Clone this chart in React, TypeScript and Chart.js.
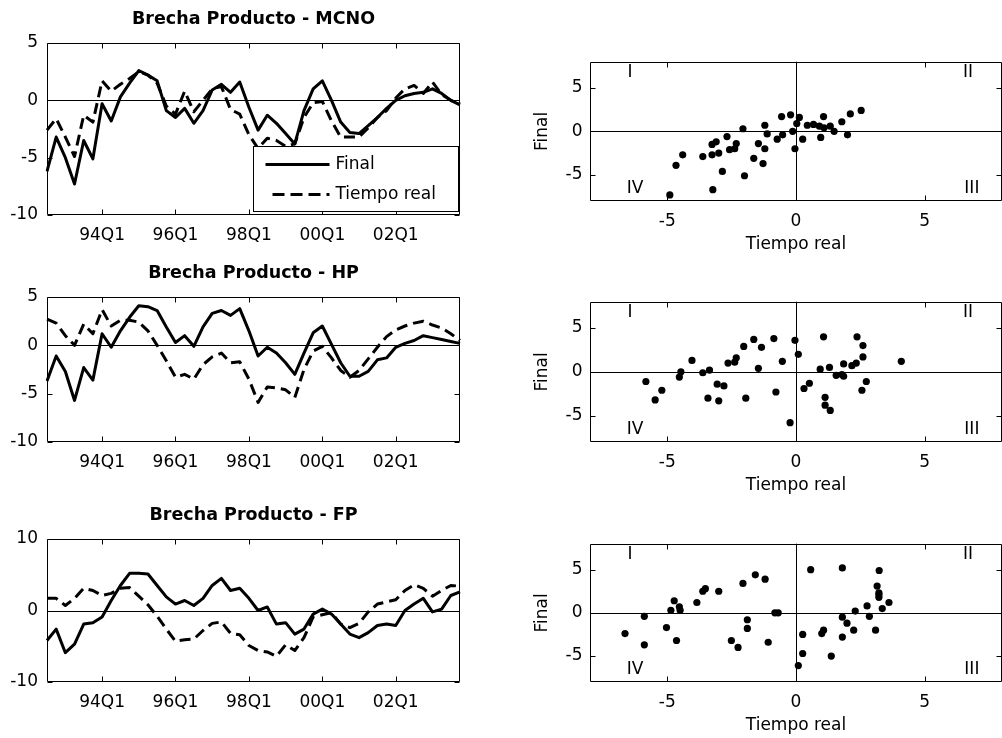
import React, { useEffect, useRef } from "react";
import { Chart, registerables } from "chart.js";

Chart.register(...registerables);

const FONT = "'DejaVu Sans', sans-serif";

// ---------- data ----------
const quarters = [
  "92Q3", "92Q4",
  "93Q1", "93Q2", "93Q3", "93Q4",
  "94Q1", "94Q2", "94Q3", "94Q4",
  "95Q1", "95Q2", "95Q3", "95Q4",
  "96Q1", "96Q2", "96Q3", "96Q4",
  "97Q1", "97Q2", "97Q3", "97Q4",
  "98Q1", "98Q2", "98Q3", "98Q4",
  "99Q1", "99Q2", "99Q3", "99Q4",
  "00Q1", "00Q2", "00Q3", "00Q4",
  "01Q1", "01Q2", "01Q3", "01Q4",
  "02Q1", "02Q2", "02Q3", "02Q4",
  "03Q1", "03Q2", "03Q3", "03Q4",
];
const xTickLabels = ["94Q1", "96Q1", "98Q1", "00Q1", "02Q1"];

const mcnoFinal = [-6.2, -3.2, -5.0, -7.3, -3.5, -5.1, -0.3, -1.8, 0.3, 1.5, 2.6, 2.2, 1.7, -0.9, -1.5, -0.7, -2.0, -0.9, 0.9, 1.4, 0.7, 1.6, -0.6, -2.6, -1.3, -2.0, -2.9, -3.8, -0.9, 1.0, 1.7, 0.0, -1.9, -2.8, -2.9, -2.2, -1.5, -0.7, 0.0, 0.4, 0.6, 0.7, 1.0, 0.6, 0.0, -0.4];
const mcnoReal = [-2.6, -1.6, -3.2, -4.9, -1.3, -1.9, 1.7, 0.8, 1.4, 1.9, 2.5, 2.2, 1.5, -0.5, -1.2, 0.8, -1.0, 0.0, 1.0, 1.2, -0.8, -1.2, -3.0, -4.2, -3.3, -3.5, -4.0, -3.8, -1.5, -0.2, -0.1, -1.8, -3.2, -3.2, -3.2, -2.4, -1.5, -0.9, 0.2, 1.0, 1.3, 0.6, 1.6, 0.5, 0.0, -0.3];

const hpFinal = [-3.7, -1.1, -2.7, -5.7, -2.3, -3.6, 1.2, -0.2, 1.5, 2.9, 4.1, 4.0, 3.6, 1.9, 0.3, 1.0, -0.1, 1.9, 3.3, 3.6, 3.1, 3.8, 1.5, -1.1, -0.2, -0.8, -1.8, -3.0, -0.8, 1.3, 2.0, 0.1, -1.8, -3.2, -3.2, -2.7, -1.5, -1.3, -0.2, 0.2, 0.5, 1.0, 0.8, 0.6, 0.4, 0.2];
const hpReal = [2.7, 2.3, 1.0, 0.0, 2.2, 1.2, 3.7, 2.0, 2.6, 2.6, 2.4, 1.5, 0.0, -1.6, -3.3, -3.0, -3.5, -2.0, -1.2, -0.8, -1.8, -1.7, -3.5, -5.9, -4.3, -4.4, -4.6, -5.4, -2.5, -0.6, -0.1, -1.3, -2.6, -3.3, -2.6, -1.4, -0.2, 0.9, 1.6, 2.0, 2.3, 2.5, 2.1, 1.8, 1.2, 0.5];

const fpFinal = [-4.2, -2.6, -5.9, -4.7, -1.9, -1.7, -0.9, 1.4, 3.5, 5.2, 5.2, 5.1, 3.5, 1.9, 0.9, 1.4, 0.7, 1.7, 3.5, 4.5, 2.8, 3.1, 1.7, 0.0, 0.5, -1.9, -1.7, -3.3, -2.6, -0.5, 0.2, -0.5, -1.9, -3.3, -3.8, -3.1, -2.1, -1.9, -2.1, 0.0, 0.9, 1.7, -0.2, 0.2, 2.1, 2.6];
const fpReal = [1.7, 1.7, 0.7, 1.7, 3.1, 2.8, 2.1, 2.4, 3.1, 3.2, 2.0, 0.8, -0.8, -2.6, -4.3, -4.1, -4.0, -2.8, -1.8, -1.6, -3.2, -3.4, -4.9, -5.6, -5.8, -6.4, -4.8, -5.6, -3.8, -0.9, -0.6, -0.3, -1.9, -2.4, -1.8, -0.2, 0.9, 1.2, 1.5, 2.8, 3.6, 3.1, 2.0, 2.8, 3.5, 3.4];

// scatter: x = Tiempo real, y = Final
const mcnoScatterX = [-4.9, -4.66, -4.4, -3.62, -3.26, -3.1, -3.26, -3.0, -2.86, -3.23, -2.68, -2.58, -2.38, -2.32, -2.06, -2.0, -1.64, -1.46, -1.21, -1.28, -1.21, -1.12, -0.73, -0.56, -0.52, -0.21, -0.13, -0.04, 0.03, 0.13, 0.26, 0.44, 0.68, 0.91, 0.96, 1.07, 1.09, 1.33, 1.48, 1.78, 2.0, 2.11, 2.53];
const mcnoScatterY = [-7.3, -3.9, -2.7, -2.9, -1.5, -1.2, -2.7, -2.5, -4.6, -6.7, -0.6, -2.1, -2.0, -1.4, 0.3, -5.1, -3.1, -1.4, -2.0, -3.7, 0.7, -0.3, -0.9, 1.7, -0.4, 1.9, 0.0, -2.0, 0.9, 1.6, -0.9, 0.7, 0.8, 0.6, -0.7, 1.7, 0.4, 0.6, 0.0, 1.1, -0.4, 2.0, 2.4];

const hpScatterX = [-5.83, -5.47, -5.21, -4.53, -4.47, -4.04, -3.62, -3.36, -3.42, -3.06, -3.0, -2.8, -2.64, -2.38, -2.32, -2.03, -1.95, -1.64, -1.46, -1.34, -0.86, -0.78, -0.53, -0.23, -0.04, 0.09, 0.31, 0.52, 0.94, 1.07, 1.13, 1.13, 1.3, 1.33, 1.56, 1.78, 1.85, 1.85, 2.17, 2.34, 2.37, 2.56, 2.6, 2.6, 2.73, 4.09];
const hpScatterY = [-1.1, -3.2, -2.1, -0.6, 0.0, 1.3, -0.1, 0.2, -3.0, -1.4, -3.3, -1.6, 1.0, 1.1, 1.6, 2.9, -3.0, 3.7, 0.4, 2.8, 3.8, -2.3, 1.2, -5.8, 3.6, 2.0, -1.9, -1.3, 0.3, 4.0, -2.9, -3.8, 0.5, -4.4, -0.4, -0.3, 0.9, -0.5, 0.7, 1.0, 4.0, -2.1, 3.0, 1.7, -1.1, 1.2];

const fpScatterX = [-6.64, -5.89, -5.89, -5.03, -4.86, -4.73, -4.64, -4.53, -4.5, -3.85, -3.62, -3.52, -3.0, -2.51, -2.25, -2.06, -1.89, -1.89, -1.58, -1.2, -1.08, -0.82, -0.69, 0.09, 0.26, 0.26, 0.57, 1.0, 1.07, 1.37, 1.8, 1.8, 1.8, 1.98, 2.24, 2.3, 2.76, 2.85, 3.09, 3.15, 3.22, 3.22, 3.23, 3.35, 3.61, 3.22];
const fpScatterY = [-2.4, -0.4, -3.7, -1.7, 0.3, 1.4, -3.2, 0.7, 0.3, 1.2, 2.5, 2.8, 2.5, -3.2, -4.0, 3.4, -0.8, -1.8, 4.4, 3.9, -3.4, 0.0, 0.0, -6.1, -2.5, -4.7, 5.0, -2.4, -2.0, -5.0, 5.2, -0.5, -2.8, -1.2, -2.0, 0.2, 0.8, -0.4, -2.0, 3.1, 2.3, 1.8, 4.9, 0.5, 1.2, 2.1];

const quadrantLabels = ["I", "II", "III", "IV"];
const quadrantX = [-6.45, 6.68, 6.83, -6.25];
const quadrantY = [6.74, 6.74, -6.56, -6.56];

const seriesLabels = ["Final", "Tiempo real"];

// ---------- helpers ----------
const TICK_LEN = 5;

function drawFrame(chart: any, xTickPx: number[], yTickPx: number[], vertZero: boolean) {
  const { ctx, chartArea: a } = chart;
  const L = Math.round(a.left) + 0.5;
  const T = Math.round(a.top) + 0.5;
  const R = Math.round(a.right) - 0.5;
  const B = Math.round(a.bottom) - 0.5;
  ctx.save();
  ctx.strokeStyle = "#000";
  ctx.lineWidth = 1;
  ctx.setLineDash([]);
  ctx.beginPath();
  ctx.moveTo(L, T);
  ctx.lineTo(R, T);
  ctx.lineTo(R, B);
  ctx.lineTo(L, B);
  ctx.closePath();
  for (const p of xTickPx) {
    const x = Math.round(p) + 0.5;
    ctx.moveTo(x, B);
    ctx.lineTo(x, B - TICK_LEN);
    ctx.moveTo(x, T);
    ctx.lineTo(x, T + TICK_LEN);
  }
  for (const p of yTickPx) {
    const y = Math.round(p) + 0.5;
    ctx.moveTo(L, y);
    ctx.lineTo(L + TICK_LEN, y);
    ctx.moveTo(R, y);
    ctx.lineTo(R - TICK_LEN, y);
  }
  ctx.stroke();
  ctx.restore();
}

function drawZero(chart: any, vertZero: boolean) {
  const { ctx, chartArea: a, scales } = chart;
  ctx.save();
  ctx.strokeStyle = "#000";
  ctx.lineWidth = 1;
  ctx.beginPath();
  const y0 = Math.round(scales.y.getPixelForValue(0)) + 0.5;
  ctx.moveTo(a.left, y0);
  ctx.lineTo(a.right, y0);
  if (vertZero) {
    const x0 = Math.round(scales.x.getPixelForValue(0)) + 0.5;
    ctx.moveTo(x0, a.top);
    ctx.lineTo(x0, a.bottom);
  }
  ctx.stroke();
  ctx.restore();
}

const tickFont = { family: FONT, size: 17 };

function lineConfig(title: string, finalData: number[], realData: number[], yMin: number, yMax: number, yStep: number, withLegend: boolean) {
  const plugin = {
    id: "frameLine",
    beforeDatasetsDraw(chart: any) {
      drawZero(chart, false);
    },
    afterDatasetsDraw(chart: any) {
      const xs = chart.scales.x;
      const ys = chart.scales.y;
      const xPx = xTickLabels.map((l) => xs.getPixelForValue(quarters.indexOf(l)));
      const yPx = ys.ticks.map((t: any) => ys.getPixelForValue(t.value));
      drawFrame(chart, xPx, yPx, false);
      if (withLegend) {
        const { ctx, chartArea: a } = chart;
        const w = 205;
        const h = 65;
        const lx = Math.round(a.right) - 2 - w + 0.5;
        const ly = Math.round(a.bottom) - 4 - h + 0.5;
        ctx.save();
        ctx.fillStyle = "#fff";
        ctx.fillRect(lx, ly, w, h);
        ctx.strokeStyle = "#000";
        ctx.lineWidth = 1;
        ctx.strokeRect(lx, ly, w, h);
        ctx.lineWidth = 3;
        ctx.beginPath();
        ctx.moveTo(lx + 12, ly + 18);
        ctx.lineTo(lx + 76, ly + 18);
        ctx.stroke();
        ctx.setLineDash([12, 6]);
        ctx.beginPath();
        ctx.moveTo(lx + 19, ly + 48);
        ctx.lineTo(lx + 76, ly + 48);
        ctx.stroke();
        ctx.setLineDash([]);
        ctx.fillStyle = "#000";
        ctx.font = `17px ${FONT}`;
        ctx.textBaseline = "middle";
        ctx.textAlign = "left";
        ctx.fillText(seriesLabels[0], lx + 82, ly + 18);
        ctx.fillText(seriesLabels[1], lx + 82, ly + 48);
        ctx.restore();
      }
    },
  };
  return {
    type: "line",
    data: {
      labels: quarters,
      datasets: [
        {
          label: seriesLabels[0],
          data: finalData,
          borderColor: "#000",
          backgroundColor: "#000",
          borderWidth: 3,
          pointRadius: 0,
          tension: 0,
          fill: false,
          borderJoinStyle: "round",
        },
        {
          label: seriesLabels[1],
          data: realData,
          borderColor: "#000",
          backgroundColor: "#000",
          borderWidth: 3,
          borderDash: [11, 6],
          pointRadius: 0,
          tension: 0,
          fill: false,
          borderJoinStyle: "round",
        },
      ],
    },
    options: {
      responsive: false,
      animation: false,
      devicePixelRatio: 1,
      events: [],
      layout: { padding: { left: 0, right: 40, top: 0, bottom: 0 } },
      plugins: {
        legend: { display: false },
        tooltip: { enabled: false },
        title: {
          display: true,
          text: title,
          color: "#000",
          fullSize: false,
          font: { family: FONT, size: 17.5, weight: "bold" },
          padding: { top: 8.5, bottom: 13.5 },
        },
      },
      scales: {
        x: {
          type: "category",
          offset: false,
          grid: { display: false, drawTicks: false },
          border: { display: false },
          ticks: {
            autoSkip: false,
            maxRotation: 0,
            minRotation: 0,
            color: "#000",
            font: tickFont,
            padding: 10,
            callback: (_v: any, i: number) => (xTickLabels.includes(quarters[i]) ? quarters[i] : null),
          },
          afterFit: (s: any) => {
            s.height = 36;
          },
        },
        y: {
          min: yMin,
          max: yMax,
          grid: { display: false, drawTicks: false },
          border: { display: false },
          ticks: { stepSize: yStep, color: "#000", font: tickFont, padding: 9 },
          afterFit: (s: any) => {
            s.width = 47;
          },
        },
      },
    },
    plugins: [plugin],
  };
}

function scatterConfig(xs: number[], ys: number[]) {
  const plugin = {
    id: "frameScatter",
    beforeDatasetsDraw(chart: any) {
      drawZero(chart, true);
    },
    afterDatasetsDraw(chart: any) {
      const sx = chart.scales.x;
      const sy = chart.scales.y;
      const xPx = sx.ticks.map((t: any) => sx.getPixelForValue(t.value));
      const yPx = sy.ticks.map((t: any) => sy.getPixelForValue(t.value));
      drawFrame(chart, xPx, yPx, true);
      const { ctx } = chart;
      ctx.save();
      ctx.fillStyle = "#000";
      ctx.font = `17px ${FONT}`;
      ctx.textAlign = "center";
      ctx.textBaseline = "middle";
      quadrantLabels.forEach((lab, i) => {
        ctx.fillText(lab, sx.getPixelForValue(quadrantX[i]), sy.getPixelForValue(quadrantY[i]));
      });
      ctx.restore();
    },
  };
  return {
    type: "scatter",
    data: {
      datasets: [
        {
          label: "Final vs Tiempo real",
          data: xs.map((x, i) => ({ x, y: ys[i] })),
          backgroundColor: "#000",
          borderColor: "#000",
          borderWidth: 0,
          pointRadius: 3.6,
        },
      ],
    },
    options: {
      responsive: false,
      animation: false,
      devicePixelRatio: 1,
      events: [],
      layout: { padding: { left: 0, right: 8, top: 12, bottom: 0 } },
      plugins: { legend: { display: false }, tooltip: { enabled: false } },
      scales: {
        x: {
          type: "linear",
          min: -8,
          max: 8,
          grid: { display: false, drawTicks: false },
          border: { display: false },
          ticks: { stepSize: 5, includeBounds: false, color: "#000", font: tickFont, padding: 10, maxRotation: 0 },
          title: {
            display: true,
            text: seriesLabels[1],
            color: "#000",
            font: { family: FONT, size: 17 },
            padding: { top: 0, bottom: 4 },
          },
          afterFit: (s: any) => {
            s.height = 58;
          },
        },
        y: {
          min: -8,
          max: 8,
          grid: { display: false, drawTicks: false },
          border: { display: false },
          ticks: { stepSize: 5, includeBounds: false, color: "#000", font: tickFont, padding: 7.5 },
          title: {
            display: true,
            text: seriesLabels[0],
            color: "#000",
            font: { family: FONT, size: 17 },
            padding: { top: 22, bottom: 0 },
          },
          afterFit: (s: any) => {
            s.width = 80;
          },
        },
      },
    },
    plugins: [plugin],
  };
}

function ChartBox({ left, top, width, height, build }: { left: number; top: number; width: number; height: number; build: () => any }) {
  const ref = useRef<HTMLCanvasElement>(null);
  useEffect(() => {
    const chart = new Chart(ref.current as HTMLCanvasElement, build());
    return () => chart.destroy();
  }, []);
  return (
    <div style={{ position: "absolute", left, top, width, height }}>
      <canvas ref={ref} width={width} height={height} style={{ display: "block", width, height }} />
    </div>
  );
}

export default function App() {
  return (
    <div
      style={{
        position: "fixed",
        left: 0,
        top: 0,
        width: 1002,
        height: 738,
        overflow: "hidden",
        background: "#fff",
      }}
    >
      <ChartBox left={0} top={0} width={500} height={251} build={() => lineConfig("Brecha Producto - MCNO", mcnoFinal, mcnoReal, -10, 5, 5, true)} />
      <ChartBox left={0} top={254} width={500} height={224} build={() => lineConfig("Brecha Producto - HP", hpFinal, hpReal, -10, 5, 5, false)} />
      <ChartBox left={0} top={496} width={500} height={222} build={() => lineConfig("Brecha Producto - FP", fpFinal, fpReal, -10, 10, 10, false)} />
      <ChartBox left={510} top={44} width={500} height={215} build={() => scatterConfig(mcnoScatterX, mcnoScatterY)} />
      <ChartBox left={510} top={284} width={500} height={216} build={() => scatterConfig(hpScatterX, hpScatterY)} />
      <ChartBox left={510} top={526} width={500} height={214} build={() => scatterConfig(fpScatterX, fpScatterY)} />
    </div>
  );
}
